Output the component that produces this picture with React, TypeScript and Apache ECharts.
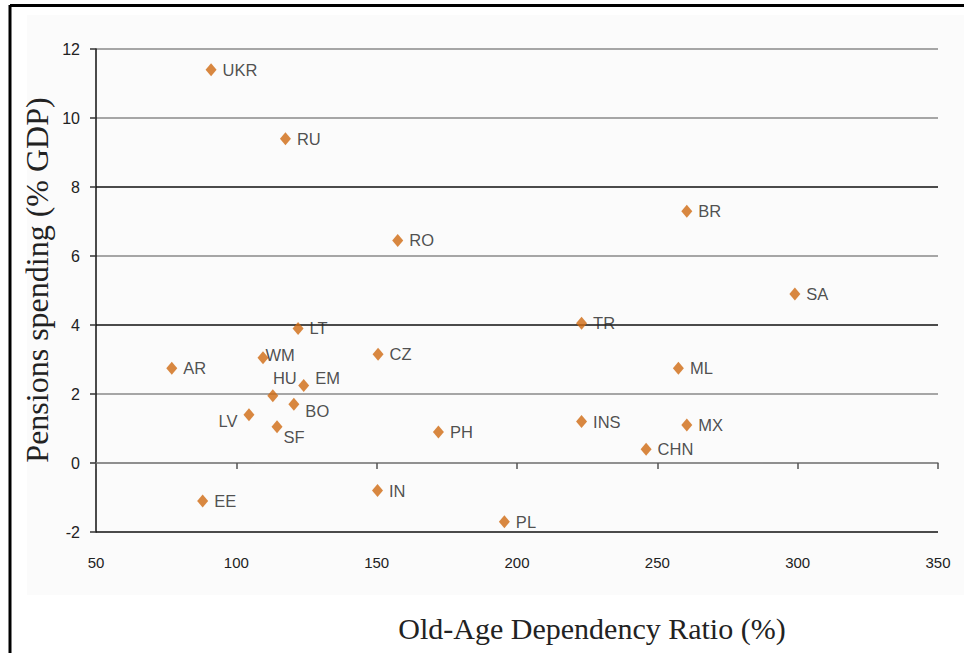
import React, { useEffect, useRef } from "react";
import * as echarts from "echarts";

const countries = ["UKR", "RU", "BR", "RO", "SA", "TR", "LT", "WM", "CZ", "AR", "ML", "EM", "HU", "BO", "LV", "INS", "MX", "SF", "PH", "CHN", "EE", "IN", "PL"];
const dependencyRatio = [91, 117.5, 260.5, 157.5, 299, 223, 122, 109.5, 150.5, 77, 257.5, 124, 113, 120.5, 104.5, 223, 260.5, 114.5, 172, 246, 88, 150.3, 195.5];
const pensionSpending = [11.4, 9.4, 7.3, 6.45, 4.9, 4.05, 3.9, 3.05, 3.15, 2.75, 2.75, 2.25, 1.95, 1.7, 1.4, 1.2, 1.1, 1.05, 0.9, 0.4, -1.1, -0.8, -1.7];

const xTitle = "Old-Age Dependency Ratio (%)";
const yTitle = "Pensions spending (% GDP)";

const labelTweaks: Record<string, any> = {
  WM: { position: "right", offset: [-9, -3] },
  HU: { position: "top", offset: [12, 3] },
  EM: { position: "right", offset: [0, -7] },
  BO: { position: "right", offset: [0, 7] },
  LV: { position: "left", offset: [0, 6] },
  SF: { position: "right", offset: [-5, 10] },
};

export default function App() {
  const ref = useRef<HTMLDivElement>(null);
  useEffect(() => {
    if (!ref.current) return;
    const chart = echarts.init(ref.current, undefined, { renderer: "svg" });
    const data = countries.map((c, i) => ({
      name: c,
      value: [dependencyRatio[i], pensionSpending[i]],
      label: labelTweaks[c] || {},
    }));
    chart.setOption({
      animation: false,
      backgroundColor: "#ffffff",
      graphic: [
        { type: "rect", z: -10, shape: { x: 27, y: 15, width: 940, height: 580 }, style: { fill: "#fbfbfb" } },
        { type: "line", shape: { x1: 10, y1: 5.5, x2: 964, y2: 5.5 }, style: { stroke: "#000", lineWidth: 3 } },
        { type: "line", shape: { x1: 10, y1: 5, x2: 10, y2: 653 }, style: { stroke: "#000", lineWidth: 3 } },
        {
          type: "text",
          x: 592,
          y: 628,
          style: { text: xTitle, fontFamily: "Liberation Serif", fontSize: 30, fill: "#222", align: "center", verticalAlign: "middle" },
        },
        {
          type: "text",
          x: 37,
          y: 280,
          rotation: Math.PI / 2,
          style: { text: yTitle, fontFamily: "Liberation Serif", fontSize: 32, fill: "#222", align: "center", verticalAlign: "middle" },
        },
      ],
      grid: { left: 96, right: 26, top: 49, bottom: 121, containLabel: false, outerBoundsMode: "none" },
      xAxis: {
        type: "value",
        min: 50,
        max: 350,
        interval: 50,
        axisLine: { show: true, onZero: true, lineStyle: { color: "#888", width: 1.5 } },
        axisTick: { show: true, inside: false, length: 6, lineStyle: { color: "#555", width: 1.5 } },
        axisLabel: { margin: 23, fontFamily: "Liberation Sans", fontSize: 15, color: "#222" },
        splitLine: { show: false },
      },
      yAxis: {
        type: "value",
        min: -2,
        max: 12,
        interval: 2,
        axisLine: { show: true, lineStyle: { color: "#111", width: 1.5 } },
        axisTick: { show: true, length: 6, lineStyle: { color: "#333", width: 1.5 } },
        axisLabel: { margin: 16, fontFamily: "Liberation Sans", fontSize: 16, color: "#222" },
        splitLine: {
          show: true,
          lineStyle: {
            color: ["#111", "#8a8a8a", "#8a8a8a", "#111", "#8a8a8a", "#111", "#8a8a8a", "#8a8a8a"],
            width: 1.6,
          },
        },
      },
      series: [
        {
          type: "scatter",
          symbol: "diamond",
          symbolSize: [11, 13],
          itemStyle: { color: "#CF6A12" },
          label: {
            show: true,
            position: "right",
            distance: 6,
            formatter: "{b}",
            fontFamily: "Liberation Sans",
            fontSize: 16.5,
            color: "#222",
          },
          data,
        },
      ],
    });
    return () => chart.dispose();
  }, []);
  return <div ref={ref} style={{ position: "fixed", left: 0, top: 0, width: 964, height: 653 }} />;
}
